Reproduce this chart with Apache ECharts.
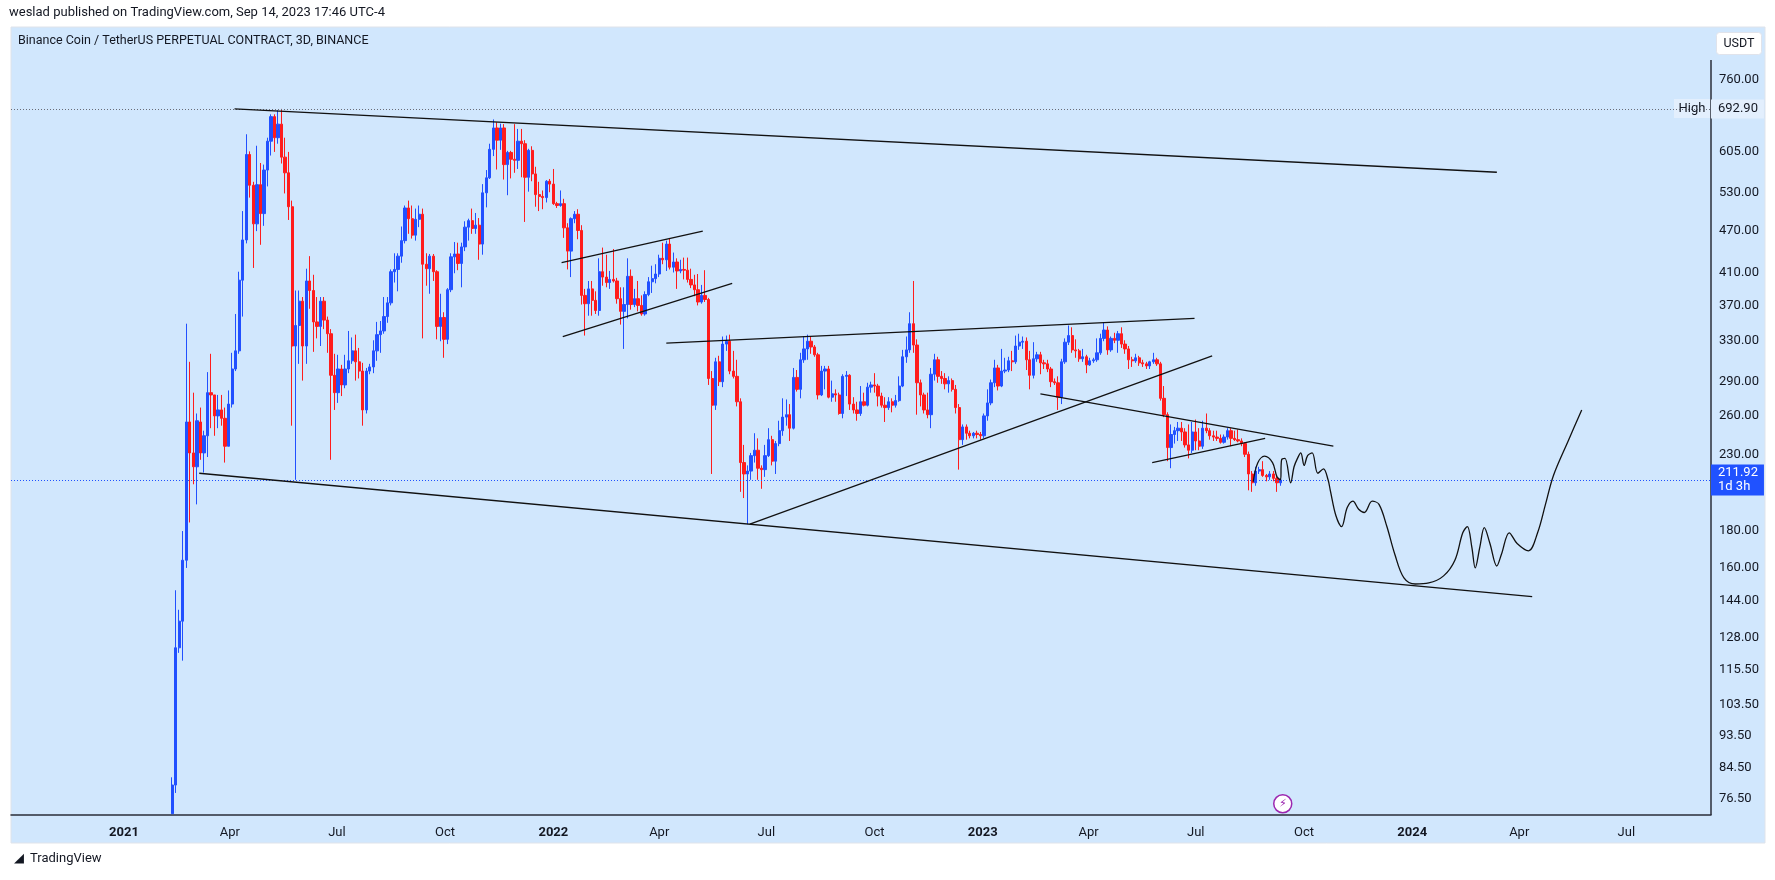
<!DOCTYPE html>
<html><head><meta charset="utf-8">
<script src="https://cdn.jsdelivr.net/npm/echarts@6/dist/echarts.min.js"></script>
<style>html,body{margin:0;padding:0;background:#fff}#c{width:1775px;height:880px}</style>
</head><body><div id="c"></div>
<script>
// ---- data (3-day candles, BNB/USDT perpetual) ----
const firstCandle = '2021-02-11';
const opens = [73,80,124,135,164,255,231,221,255,231,244,280,278,260,265,258,236,270,302,320,401,456,599,543,480,544,496,570,625,676,632,660,594,565,507,325,347,375,325,400,388,351,346,375,353,338,296,280,302,287,302,310,320,309,300,265,300,304,320,337,341,357,373,412,415,433,455,505,488,463,487,495,422,416,433,412,346,356,332,389,432,436,423,446,475,485,473,478,450,530,556,609,652,627,652,580,603,590,588,625,620,557,607,563,527,524,522,550,545,512,509,512,474,440,488,495,470,382,372,390,376,364,412,405,398,402,400,378,363,371,406,371,378,370,360,383,399,403,409,430,428,450,418,425,413,415,414,402,395,389,374,382,377,293,269,309,290,327,330,300,295,272,224,216,218,229,233,220,219,229,241,225,238,248,259,261,250,294,283,311,322,330,324,316,278,300,302,276,279,278,262,295,296,270,265,262,272,269,285,287,286,277,269,267,272,269,273,286,314,321,349,326,289,278,265,261,297,311,295,293,288,291,283,267,241,251,246,244,246,245,244,260,271,289,303,286,300,301,310,309,325,329,330,311,296,312,316,308,307,302,290,289,276,309,329,336,321,320,312,314,306,310,311,318,333,342,321,333,331,338,327,322,311,310,313,308,307,305,309,311,307,275,261,235,245,248,250,247,237,233,247,240,236,250,248,244,243,242,239,243,248,242,241,240,238,230,216,210,218,219,215,214,216,213,210];
const closes = [80,124,135,164,255,231,221,256,231,244,280,278,260,265,258,236,270,302,320,401,456,599,543,480,544,496,570,625,676,632,660,594,565,507,325,347,375,325,400,388,351,346,375,353,338,296,280,302,287,302,310,320,309,300,265,300,304,320,337,341,357,373,412,415,433,455,505,488,463,487,495,422,416,433,412,346,356,332,389,432,436,423,446,475,485,473,478,450,530,556,609,652,627,652,580,603,590,588,625,620,557,607,563,527,524,522,550,545,512,509,512,474,440,488,495,470,382,372,390,376,364,412,405,398,402,400,378,363,371,406,371,378,370,360,383,399,403,409,430,428,450,418,425,413,415,414,402,395,389,374,382,377,293,269,309,290,327,330,300,295,272,224,216,218,229,233,220,219,229,241,225,238,248,259,261,250,294,283,311,322,330,324,316,278,300,302,276,279,278,262,295,296,270,265,262,272,269,285,287,286,277,269,267,272,269,273,286,314,321,349,326,289,278,265,261,297,311,295,293,288,291,283,267,241,251,246,244,246,245,244,260,271,289,303,286,300,301,310,309,325,329,330,311,296,312,316,308,307,302,290,289,276,309,329,336,321,320,312,314,306,310,311,318,333,342,321,333,331,338,327,322,311,310,313,308,307,305,309,311,307,275,261,235,245,248,250,247,237,233,247,240,236,250,248,244,243,242,239,243,248,242,241,240,238,230,216,210,218,219,215,214,216,213,210,211.92];
const lows = [73,78,122,119,160,185,209,196,226,217,228,250,244,250,252,224,236,267,300,317,357,451,522,417,469,449,477,541,597,604,620,582,529,486,252,212,307,291,307,366,319,333,325,343,318,226,265,271,277,284,298,307,291,293,252,262,297,298,310,318,338,350,370,398,387,424,451,465,458,455,475,333,394,384,400,332,330,313,327,386,410,414,392,440,455,465,465,428,435,506,554,596,571,608,553,526,555,565,572,557,483,532,550,507,500,503,514,531,510,505,507,459,415,405,481,457,371,336,358,358,360,358,394,392,390,398,372,348,322,355,365,368,363,358,358,381,385,397,405,422,413,415,411,390,410,402,398,391,381,370,372,374,287,216,265,286,285,320,297,293,268,204,200,184,212,224,212,206,214,228,222,216,236,244,252,240,249,281,275,308,311,317,314,274,277,283,275,272,272,261,258,277,265,262,256,260,268,268,280,280,268,267,255,265,263,267,272,285,308,318,318,261,268,262,258,250,291,289,288,283,280,281,262,219,237,241,242,242,242,241,242,256,269,285,282,285,298,299,300,307,321,322,301,283,293,309,297,302,299,285,287,265,270,307,326,318,313,309,309,298,305,308,309,316,330,316,319,328,318,323,317,302,304,308,305,304,302,302,307,305,273,259,225,220,238,240,240,235,227,231,233,233,234,246,241,240,240,238,238,241,236,240,239,236,228,205,204,208,216,214,211,212,211,204,208];
const highs = [82,149,140,180,349,309,280,262,267,248,299,317,278,278,278,267,282,318,360,412,500,639,605,549,616,583,580,632,681,681,690,692.9,632,604,517,388,388,380,416,433,408,380,380,380,357,343,317,316,306,316,341,334,337,323,308,303,307,331,351,352,380,380,415,437,437,476,509,517,509,504,509,504,437,436,436,414,384,362,391,437,453,452,452,484,488,504,497,489,545,570,620,670,664,661,660,606,606,660,650,650,627,610,615,576,549,534,552,554,572,515,534,520,481,490,500,503,478,390,400,400,387,430,445,435,413,443,404,392,392,430,415,390,400,382,387,405,420,422,435,452,455,458,438,430,428,431,431,416,408,409,395,414,379,300,313,315,335,336,337,320,311,275,237,222,231,246,242,222,237,250,244,240,256,275,274,270,303,301,318,335,337,335,326,318,305,305,305,291,283,280,297,300,297,276,272,286,280,289,290,298,288,280,276,276,275,278,295,321,335,362,400,332,292,280,280,303,317,314,300,298,295,293,287,270,253,253,248,247,248,247,262,283,292,311,306,322,313,314,320,336,338,335,334,320,329,319,319,311,311,304,293,295,312,333,347,345,332,322,322,316,313,313,333,338,350,346,335,339,341,345,331,325,314,317,315,311,309,310,318,313,309,286,263,253,251,255,255,250,253,255,257,250,256,262,250,248,248,245,245,250,250,248,249,242,239,232,218,221,221,225,216,218,218,215,213];

// trend lines drawn on the chart: [date, price] pairs
const trendLines = [
  [['2021-04-05',693],['2024-03-13',566]],
  [['2021-03-06',216.5],['2024-04-12',146]],
  [['2022-01-08',424],['2022-05-08',469]],
  [['2022-01-09',335],['2022-06-02',397]],
  [['2022-04-07',328],['2023-06-30',355]],
  [['2022-06-17',184],['2023-07-15',315]],
  [['2023-02-19',279],['2023-10-26',236]],
  [['2023-05-25',224],['2023-08-29',242]]
];
// hand-drawn projection (days since 2021-01-01, price)
const curveDays = [959.9,963.7,969.5,976.3,980.1,983,984,986.9,991.7,994.6,997.5,1000.3,1003.2,1006.1,1010,1014.8,1019.6,1023.5,1025.4,1030.2,1035,1039.8,1044.6,1049.5,1054.3,1061,1066.8,1073.5,1080.3,1088,1097.6,1109.1,1121.7,1131.3,1138,1141.9,1145.7,1148.6,1152.5,1156.3,1161.1,1166.9,1170.8,1177.5,1184.2,1193.9,1201.6,1208.3,1215.1,1227.6,1239.1];
const curvePrices = [210.7,223.7,228.6,224,214,212,226,227,210,221,227,231,222,229,231,216.5,219.6,212,205,189,182.6,194,198,193,191,198,196,182.6,167,155,152,152.5,156,164,179,182.6,171,160,171,182,173,161,167,179,173,169,179,196,215,240,265];

const priceTicks = [76.5,84.5,93.5,103.5,115.5,128,144,160,180,230,260,290,330,370,410,470,530,605,760];
const timeTicks = ['2021-01-01','2021-04-01','2021-07-01','2021-10-01','2022-01-01','2022-04-01','2022-07-01','2022-10-01','2023-01-01','2023-04-01','2023-07-01','2023-10-01','2024-01-01','2024-04-01','2024-07-01'];
const monthNames = ['Jan','Feb','Mar','Apr','May','Jun','Jul','Aug','Sep','Oct','Nov','Dec'];
const lastPrice = 211.92, highPrice = 692.9;

// ---- build ----
const DAY = 86400000;
const t0 = Date.parse(firstCandle);
const candles = opens.map((o,i)=>[t0 + i*3*DAY, o, closes[i], lows[i], highs[i]]);
const base = Date.UTC(2021,0,1);
const curve = curveDays.map((d,i)=>[base + d*DAY, curvePrices[i]]);
const tickTimes = timeTicks.map(s=>Date.parse(s));

const FONT = 'Roboto, "Liberation Sans", sans-serif';
const series = [{
  type:'candlestick', data:candles, encode:{x:0,y:[1,2,3,4]},
  barWidth:2.8,
  itemStyle:{color:'#2150ff',color0:'#ff1c1c',borderColor:'#2150ff',borderColor0:'#ff1c1c',borderWidth:1},
  markLine:{silent:true,symbol:'none',animation:false,data:[
    {yAxis:highPrice,lineStyle:{type:[1,2],color:'#6a6d78',width:1},
     label:{position:'end',distance:0,formatter:'692.90',backgroundColor:'#e3effd',color:'#131722',fontFamily:FONT,fontSize:13,padding:[3,6,3,7]}},
    {yAxis:lastPrice,lineStyle:{type:[1,2],color:'#2052ff',width:1},
     label:{position:'end',distance:0,formatter:'211.92\n1d 3h',backgroundColor:'#2052ff',color:'#fff',fontFamily:FONT,fontSize:13,lineHeight:14,padding:[2,6,1,7]}}
  ]}
}];
trendLines.forEach(l=>series.push({type:'line',data:l.map(p=>[Date.parse(p[0]),p[1]]),symbol:'none',silent:true,
  lineStyle:{color:'#111',width:1.3},z:5,animation:false}));
series.push({type:'line',data:curve,symbol:'none',smooth:0.35,silent:true,lineStyle:{color:'#111',width:1.3},z:5,animation:false});

const chart = echarts.init(document.getElementById('c'));
chart.setOption({
  animation:false,
  backgroundColor:'#ffffff',
  grid:{left:11,right:64,top:27,bottom:65},
  xAxis:{type:'value',min:Date.parse('2020-09-27'),max:Date.parse('2024-09-11'),
    axisLine:{show:true,lineStyle:{color:'#2a2e39',width:1.5}},axisTick:{show:false},splitLine:{show:false},
    axisLabel:{customValues:tickTimes,fontFamily:FONT,fontSize:13,color:'#131722',margin:11,
      formatter:v=>{const d=new Date(v);return d.getUTCMonth()===0?'{y|'+d.getUTCFullYear()+'}':monthNames[d.getUTCMonth()];},
      rich:{y:{fontWeight:'bold',fontFamily:FONT,fontSize:13,color:'#131722'}}}},
  yAxis:{type:'log',logBase:10,position:'right',min:72.7,max:900,
    axisLine:{show:false},axisTick:{show:false},splitLine:{show:false},
    axisLabel:{customValues:priceTicks,fontFamily:FONT,fontSize:13,color:'#131722',margin:8,formatter:v=>Number(v).toFixed(2)}},
  graphic:[
    {type:'rect',z:-10,silent:true,shape:{x:11,y:27,width:1754,height:816},style:{fill:'#d1e7fd',stroke:'#dfe3ea'}},
    {type:'line',z:1,silent:true,shape:{x1:1711,y1:60,x2:1711,y2:815},style:{stroke:'#2a2e39',lineWidth:1.5}},
    {type:'text',left:9,top:6,style:{text:'weslad published on TradingView.com, Sep 14, 2023 17:46 UTC-4',font:'13px '+FONT,fill:'#131722'}},
    {type:'text',left:18,top:34,style:{text:'Binance Coin / TetherUS PERPETUAL CONTRACT, 3D, BINANCE',font:'12.5px '+FONT,fill:'#131722'}},
    {type:'group',left:1716,top:32,children:[
      {type:'rect',shape:{x:0,y:0,width:45,height:22,r:3},style:{fill:'#fff',stroke:'#e0e3eb'}},
      {type:'text',x:22.5,y:11,style:{text:'USDT',font:'12.5px '+FONT,fill:'#131722',align:'center',verticalAlign:'middle'}}]},
    {type:'group',left:1674,top:99,children:[
      {type:'rect',shape:{x:0,y:0,width:37,height:19},style:{fill:'#e3effd'}},
      {type:'text',x:18,y:9.5,style:{text:'High',font:'13px '+FONT,fill:'#131722',align:'center',verticalAlign:'middle'}}]},
    {type:'group',left:1273,top:794,children:[
      {type:'circle',shape:{cx:10,cy:10,r:9},style:{fill:'#fff',stroke:'#9c27b0',lineWidth:1.5}},
      {type:'text',x:10,y:10,style:{text:'⚡',font:'11px "DejaVu Sans"',fill:'#9c27b0',align:'center',verticalAlign:'middle'}}]},
    {type:'group',left:14,top:852,children:[
      {type:'text',x:0,y:0,style:{text:'\u25E2',font:'bold 13px "DejaVu Sans"',fill:'#131722'}},
      {type:'text',x:16,y:0,style:{text:'TradingView',font:'13px '+FONT,fill:'#131722'}}]}
  ],
  series
});
</script></body></html>
